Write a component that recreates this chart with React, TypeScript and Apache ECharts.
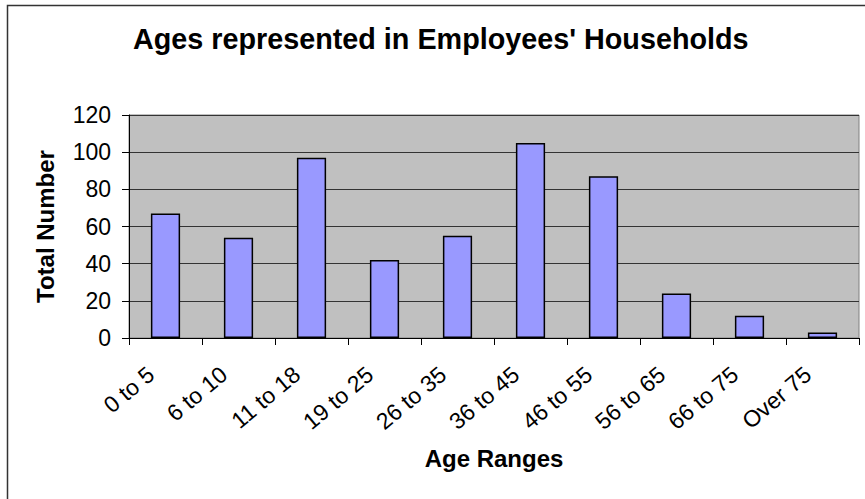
import React, { useEffect, useRef } from "react";
import * as echarts from "echarts";

const categories = ["0 to 5", "6 to 10", "11 to 18", "19 to 25", "26 to 35", "36 to 45", "46 to 55", "56 to 65", "66 to 75", "Over 75"];
const totals = [67, 54, 97, 42, 55, 105, 87, 24, 12, 3];
const titleText = "Ages represented in Employees' Households";
const xName = "Age Ranges";
const yName = "Total Number";

const FONT = "Arial, 'Liberation Sans', Helvetica, sans-serif";

export default function App() {
  const ref = useRef<HTMLDivElement>(null);
  useEffect(() => {
    document.body.style.margin = "0";
    const chart = echarts.init(ref.current!, null, { renderer: "svg" });
    chart.setOption({
      animation: false,
      backgroundColor: "#ffffff",
      textStyle: { fontFamily: FONT },
      title: {
        text: titleText,
        left: 128,
        top: 19,
        textStyle: { fontFamily: FONT, fontSize: 28.75, fontWeight: "bold", color: "#000" },
      },
      graphic: [
        {
          type: "rect",
          shape: { x: 7.5, y: 5.5, width: 900, height: 600 },
          style: { fill: "none", stroke: "#333", lineWidth: 1.5 },
          silent: true,
        },
      ],
      grid: {
        left: 129,
        top: 115,
        right: 6,
        bottom: 161,
        show: true,
        backgroundColor: "#C0C0C0",
        borderColor: "#808080",
        borderWidth: 1,
      },
      xAxis: {
        type: "category",
        data: categories,
        name: xName,
        nameLocation: "middle",
        nameGap: 108,
        nameTextStyle: { fontFamily: FONT, fontSize: 24, fontWeight: "bold", color: "#000" },
        axisLine: { lineStyle: { color: "#000", width: 1 } },
        axisTick: { show: true, alignWithLabel: false, length: 7, lineStyle: { color: "#000" } },
        axisLabel: {
          rotate: 40,
          fontFamily: FONT,
          fontSize: 23,
          color: "#000",
          margin: 21,
          padding: [0, 19, 0, 0],
          interval: 0,
        },
      },
      yAxis: {
        type: "value",
        min: 0,
        max: 120,
        interval: 20,
        name: yName,
        nameLocation: "middle",
        nameGap: 72,
        nameTextStyle: { fontFamily: FONT, fontSize: 24, fontWeight: "bold", color: "#000" },
        axisLine: { show: true, lineStyle: { color: "#000", width: 1 } },
        axisTick: { show: true, length: 7, lineStyle: { color: "#000" } },
        axisLabel: { fontFamily: FONT, fontSize: 23, color: "#000", margin: 18 },
        splitLine: { show: true, lineStyle: { color: "#333", width: 1 } },
      },
      series: [
        {
          type: "bar",
          data: totals,
          barWidth: "40%",
          itemStyle: { color: "#9999FF", borderColor: "#000", borderWidth: 1.5 },
        },
      ],
    });
    return () => chart.dispose();
  }, []);
  return <div ref={ref} style={{ width: 865, height: 499 }} />;
}
